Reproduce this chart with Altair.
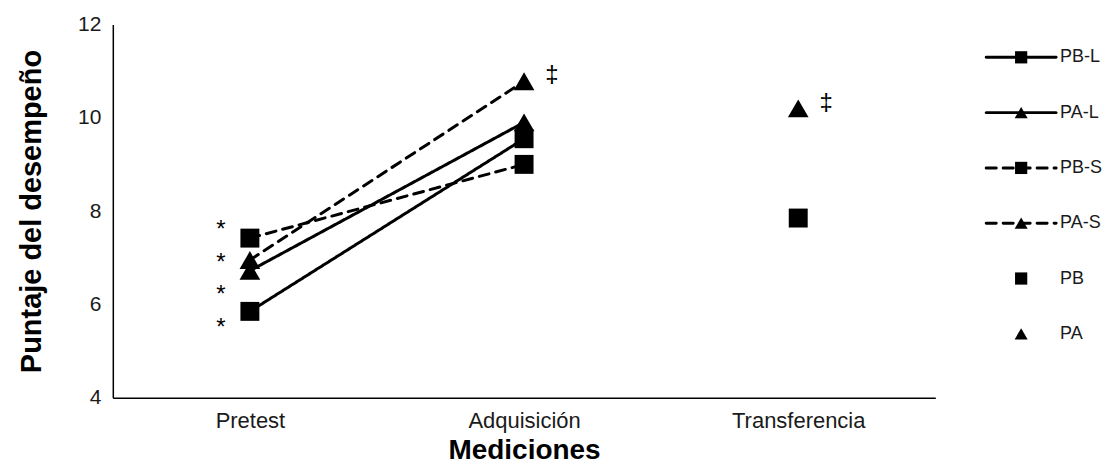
import altair as alt
import pandas as pd

# ---- data ----
mediciones = ["Pretest", "Adquisición", "Transferencia"]
line_series = ["PB-L", "PA-L", "PB-S", "PA-S"]
line_group = ["PB", "PA", "PB", "PA"]
line_cond = ["L", "L", "S", "S"]
pretest_vals = [5.85, 6.72, 7.42, 6.95]
adquisicion_vals = [9.55, 9.9, 9.0, 10.78]
transfer_series = ["PB", "PA"]
transfer_vals = [7.85, 10.2]
asterisk_y = [7.7, 7.0, 6.3, 5.6]
dagger_x = ["Adquisición", "Transferencia"]
dagger_y = [10.9, 10.3]
y_ticks = [4, 6, 8, 10, 12]
legend_items = ["PB-L", "PA-L", "PB-S", "PA-S", "PB", "PA"]

FONT = "Liberation Sans"

rows = []
for s, g, c, p, a in zip(line_series, line_group, line_cond, pretest_vals, adquisicion_vals):
    rows.append({"serie": s, "grupo": g, "cond": c, "medicion": "Pretest", "valor": p})
    rows.append({"serie": s, "grupo": g, "cond": c, "medicion": "Adquisición", "valor": a})
for s, v in zip(transfer_series, transfer_vals):
    rows.append({"serie": s, "grupo": s, "cond": "none", "medicion": "Transferencia", "valor": v})
df = pd.DataFrame(rows)

ast_df = pd.DataFrame({"medicion": ["Pretest"] * len(asterisk_y), "valor": asterisk_y, "t": ["*"] * len(asterisk_y)})
dag_df = pd.DataFrame({"medicion": dagger_x, "valor": dagger_y, "t": ["‡"] * len(dagger_y)})

x_enc = alt.X(
    "medicion:N",
    sort=mediciones,
    scale=alt.Scale(type="point", domain=mediciones, padding=0.5),
    axis=alt.Axis(
        title="Mediciones", titleFont=FONT, titleFontSize=28, titleFontWeight="bold",
        titleColor="black", titlePadding=5,
        labelFont=FONT, labelFontSize=22, labelColor="#1a1a1a", labelPadding=13, labelAngle=0,
        ticks=False, domainColor="black", domainWidth=1.5, grid=False,
    ),
)
y_enc = alt.Y(
    "valor:Q",
    scale=alt.Scale(domain=[4, 12], nice=False, zero=False),
    axis=alt.Axis(
        title="Puntaje del desempeño", titleFont=FONT, titleFontSize=29, titleFontWeight="bold",
        titleColor="black", titlePadding=31,
        labelFont=FONT, labelFontSize=21, labelColor="#1a1a1a", labelPadding=12,
        values=y_ticks, ticks=False, domainColor="black", domainWidth=1.5, grid=False,
    ),
)

shape_scale = alt.Scale(domain=["PB", "PA"], range=["square", "triangle-up"])
size_scale = alt.Scale(domain=["PB", "PA"], range=[360, 430])

lines = alt.Chart(df).transform_filter(alt.datum.cond != "none").mark_line(
    color="black", strokeWidth=3, strokeCap="round"
).encode(
    x=x_enc, y=y_enc, detail="serie:N",
    strokeDash=alt.StrokeDash("cond:N", scale=alt.Scale(domain=["L", "S"], range=[[1, 0], [10, 7]]), legend=None),
)

points = alt.Chart(df).mark_point(filled=True, color="black", opacity=1, strokeWidth=1, strokeJoin="round").encode(
    x=alt.X("medicion:N", sort=mediciones),
    y="valor:Q",
    shape=alt.Shape("grupo:N", scale=shape_scale, legend=None),
    size=alt.Size("grupo:N", scale=size_scale, legend=None),
)

asterisks = alt.Chart(ast_df).mark_text(font=FONT, fontSize=24, color="black", dx=-29, dy=5).encode(
    x=alt.X("medicion:N", sort=mediciones), y="valor:Q", text="t:N"
)
daggers = alt.Chart(dag_df).mark_text(font=FONT, fontSize=24, color="black", dx=28, baseline="middle").encode(
    x=alt.X("medicion:N", sort=mediciones), y="valor:Q", text="t:N"
)

# ---- manual legend on the right ----
one = pd.DataFrame({"k": [0]})
leg_layers = []
LX0, LX1, LXM, LXT = 875, 945, 910, 949
for i, name in enumerate(legend_items):
    yy = 33 + i * 55.4
    grp = "PB" if name.startswith("PB") else "PA"
    if "-" in name:
        dash = [1, 0] if name.endswith("L") else [10, 7]
        leg_layers.append(
            alt.Chart(one).mark_rule(color="black", strokeWidth=3, strokeDash=dash, strokeCap="round").encode(
                x=alt.value(LX0), x2=alt.value(LX1), y=alt.value(yy)
            )
        )
    leg_layers.append(
        alt.Chart(one).mark_point(
            filled=True, color="black", opacity=1,
            shape="square" if grp == "PB" else "triangle-up",
            size=150 if grp == "PB" else 170,
        ).encode(x=alt.value(LXM), y=alt.value(yy))
    )
    leg_layers.append(
        alt.Chart(one).mark_text(text=name, font=FONT, fontSize=18, color="#1a1a1a", align="left", baseline="middle").encode(
            x=alt.value(LXT), y=alt.value(yy)
        )
    )

chart = alt.layer(lines, points, asterisks, daggers, *leg_layers).properties(
    width=824, height=374,
    autosize=alt.AutoSizeParams(type="none"),
    padding={"left": 105, "top": 16, "right": 172, "bottom": 67},
).configure(background="white").configure_view(strokeWidth=0, stroke="transparent")

chart.save("out.html", embed_options={"renderer": "svg", "actions": False})
